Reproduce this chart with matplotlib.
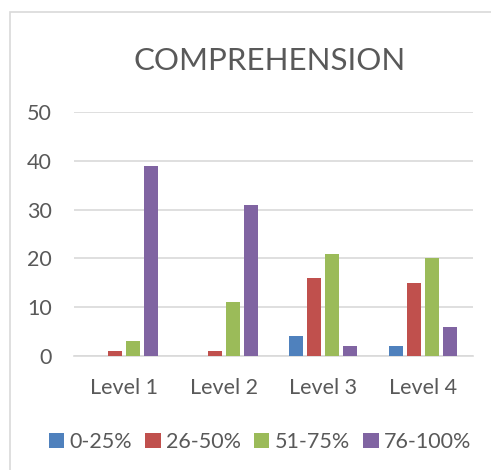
import matplotlib
matplotlib.use("Agg")
import matplotlib.pyplot as plt
import numpy as np
from matplotlib.patches import Rectangle

plt.rcParams['font.family'] = ['Lato', 'DejaVu Sans']

categories = ["Level 1", "Level 2", "Level 3", "Level 4"]
series_names = ["0-25%", "26-50%", "51-75%", "76-100%"]
s_0_25 = [0, 0, 4, 2]
s_26_50 = [1, 1, 16, 15]
s_51_75 = [3, 11, 21, 20]
s_76_100 = [39, 31, 2, 6]
yticks = [0, 10, 20, 30, 40, 50]

series = [s_0_25, s_26_50, s_51_75, s_76_100]
colors = ["#4F81BD", "#C0504D", "#9BBB59", "#8064A2"]
text_color = "#595959"
grid_color = "#D9D9D9"
label_size = 15.5

fig = plt.figure(figsize=(4.91, 4.70), dpi=100)
fig.patch.set_facecolor("white")

# light chart-area frame (extends past right and bottom edges)
fig.patches.append(Rectangle((10 / 491, -0.2), 1.2, 1.2 - 12 / 470,
                             transform=fig.transFigure, fill=False,
                             edgecolor=grid_color, linewidth=1.2))

ax = fig.add_axes([74 / 491, 1 - 356 / 470, 399 / 491, 244 / 470])

x = np.arange(len(categories))
width = 0.14
pitch = 0.18
for i, (vals, col, name) in enumerate(zip(series, colors, series_names)):
    offs = (i - 1.5) * pitch
    ax.bar(x + offs, vals, width=width, color=col, label=name, zorder=3)

ax.set_xlim(-0.5, len(categories) - 0.5)
ax.set_ylim(0, 50)
ax.set_yticks(yticks)
ax.set_xticks(x)
ax.set_xticklabels(categories)
ax.yaxis.grid(True, color=grid_color, linewidth=1.2, zorder=0)
ax.set_axisbelow(True)
for side in ["top", "right", "left"]:
    ax.spines[side].set_visible(False)
ax.spines["bottom"].set_color(grid_color)
ax.spines["bottom"].set_linewidth(1.2)
ax.tick_params(axis="both", length=0, labelsize=label_size, colors=text_color)
ax.tick_params(axis="y", pad=16)
ax.tick_params(axis="x", pad=16)

fig.text(270 / 491, 1 - 61 / 470, "COMPREHENSION", ha="center", va="center",
         fontsize=22.5, color=text_color)

leg = fig.legend(loc="center", bbox_to_anchor=(260 / 491, 1 - 442 / 470), ncol=4,
                 frameon=False, fontsize=label_size, handlelength=0.72, handleheight=0.72,
                 handletextpad=0.25, columnspacing=0.6, labelcolor=text_color,
                 borderaxespad=0, borderpad=0)

fig.savefig("out.png", dpi=100, facecolor="white")
